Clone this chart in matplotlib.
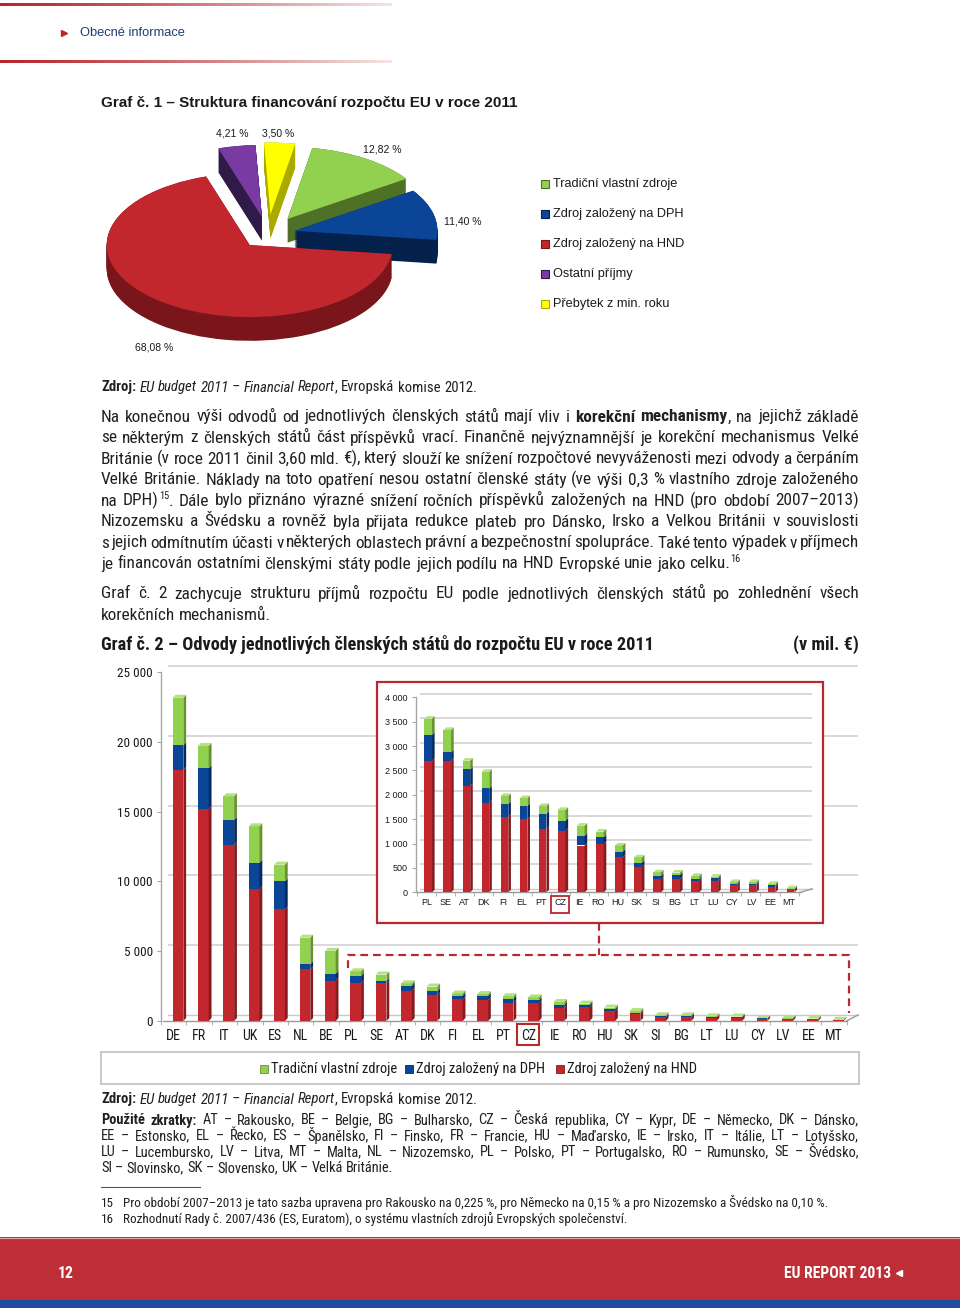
import warnings
warnings.filterwarnings('ignore')
import logging
logging.getLogger('matplotlib.font_manager').setLevel(logging.ERROR)
import numpy as np
import matplotlib
matplotlib.use("Agg")
import matplotlib.pyplot as plt
from matplotlib.patches import Rectangle, Polygon
from matplotlib.font_manager import FontProperties

# ---------------- data ----------------
pie_labels = ['Tradiční vlastní zdroje', 'Zdroj založený na DPH', 'Zdroj založený na HND',
              'Ostatní příjmy', 'Přebytek z min. roku']
pie_vals = [12.82, 11.40, 68.08, 4.21, 3.50]
pie_text = ['12,82 %', '11,40 %', '68,08 %', '4,21 %', '3,50 %']

countries = ['DE', 'FR', 'IT', 'UK', 'ES', 'NL', 'BE', 'PL', 'SE', 'AT', 'DK', 'FI', 'EL', 'PT',
             'CZ', 'IE', 'RO', 'HU', 'SK', 'SI', 'BG', 'LT', 'LU', 'CY', 'LV', 'EE', 'MT']
hnd = [18000, 15200, 12600, 9450, 8000, 3700, 2900, 2700, 2700, 2180, 1840, 1550, 1500, 1300,
       1265, 960, 990, 720, 525, 275, 275, 240, 240, 150, 150, 115, 60]
dph = [1750, 2900, 1800, 1900, 2000, 370, 480, 530, 170, 340, 290, 260, 270, 310,
       205, 195, 140, 115, 80, 60, 80, 30, 45, 30, 25, 28, 12]
tor = [3400, 1600, 1700, 2600, 1200, 1900, 1650, 330, 460, 180, 340, 165, 160, 160,
       220, 210, 115, 125, 110, 75, 50, 65, 35, 30, 35, 28, 10]
bar_series = ['Tradiční vlastní zdroje', 'Zdroj založený na DPH', 'Zdroj založený na HND']
main_ticks = [0, 5000, 10000, 15000, 20000, 25000]
inset_ticks = [0, 500, 1000, 1500, 2000, 2500, 3000, 3500, 4000]
inset_start = 7  # inset shows PL ... MT

# ---------------- style ----------------
NARROW = ['Liberation Sans Narrow', 'Arial Narrow', 'Roboto Condensed', 'Archivo Narrow',
          'Pragati Narrow', 'DejaVu Sans']
REG = ['Liberation Sans', 'DejaVu Sans']
TXT = '#231f20'
RED = '#b8282f'
GREEN, GREEN_S, GREEN_T = '#92d050', '#67932f', '#b4e282'
BLUE, BLUE_S = '#0b4597', '#062a60'
HRED, HRED_S = '#c1272d', '#851a1f'
pie_colors = [GREEN, BLUE, HRED, '#7a3aa4', '#ffff00']
pie_side = ['#4f7127', '#04214c', '#7a161b', '#2f1a48', '#a9a900']

W, H = 960, 1308
fig = plt.figure(figsize=(W / 100, H / 100), dpi=100)
fig.patch.set_facecolor('white')


def pax(x0, y0, x1, y1):
    return fig.add_axes([x0 / W, 1 - y1 / H, (x1 - x0) / W, (y1 - y0) / H])


def page_axes():
    a = fig.add_axes([0, 0, 1, 1])
    a.set_xlim(0, W)
    a.set_ylim(H, 0)
    a.axis('off')
    a.patch.set_alpha(0)
    return a


bg = page_axes()
renderer = fig.canvas.get_renderer()


# ---------- rich / justified text helper ----------
def fprop(st, sz, family):
    return FontProperties(family=family, size=sz,
                          weight='bold' if 'b' in st else 'normal',
                          style='italic' if 'i' in st else 'normal')


def tw(s, fp):
    return renderer.get_text_width_height_descent(s, fp, ismath=False)[0]


def tokens(runs):
    toks = [[]]
    for text, st in runs:
        parts = text.split(' ')
        for i, p in enumerate(parts):
            if i > 0:
                toks.append([])
            if p:
                toks[-1].append((p, st))
    return [tk for tk in toks if tk]


def measure(runs, size, family=NARROW):
    toks = tokens(runs)
    widths = []
    for tk in toks:
        w = 0
        for s, st in tk:
            sz = size * 0.6 if 's' in st else size
            w += tw(s, fprop(st, sz, family))
        widths.append(w)
    fp0 = fprop('', size, family)
    space = tw('a a', fp0) - tw('aa', fp0)
    return toks, widths, space


def fit_size(runs, target, base=10.0, family=NARROW):
    toks, widths, space = measure(runs, base, family)
    nat = sum(widths) + space * (len(toks) - 1)
    return base * target / nat


def draw_runs(y, runs, x0=101, x1=859, justify=True, size=10.5, color=TXT, family=NARROW, ax=None):
    ax = ax or bg
    toks, widths, space = measure(runs, size, family)
    gap = space
    if justify and len(toks) > 1:
        gap = (x1 - x0 - sum(widths)) / (len(toks) - 1)
        if gap < 0.55 * space:
            size = size * (x1 - x0 - 0.55 * space * (len(toks) - 1)) / sum(widths)
            toks, widths, space = measure(runs, size, family)
            gap = (x1 - x0 - sum(widths)) / (len(toks) - 1)
    x = x0
    for tk in toks:
        for s, st in tk:
            sup = 's' in st
            sz = size * 0.6 if sup else size
            fp = fprop(st, sz, family)
            ax.text(x, y - (size * 0.55 if sup else 0), s, fontproperties=fp, color=color,
                    va='baseline', ha='left')
            x += tw(s, fp)
        x += gap


# header gradient lines
t = np.linspace(0, 1, 400)
f = np.clip(t ** 1.2, 0, 1)
c0 = np.array([0.72, 0.15, 0.18])
c1 = np.array([0.96, 0.90, 0.89])
grad = (c0[None, :] * (1 - f[:, None]) + c1[None, :] * f[:, None])[None, :, :]
for yy in (3.5, 60.5):
    bg.imshow(grad, extent=(0, 392, yy + 3, yy), aspect='auto', interpolation='bilinear')
bg.set_xlim(0, W)
bg.set_ylim(H, 0)
bg.plot([64], [33], marker='>', ms=5, color=RED, mec=RED)
bg.text(80, 33, 'Obecné informace', family=REG, size=9.3, color='#1f3d73', va='center')

bg.text(101, 103, 'Graf č. 1 – Struktura financování rozpočtu EU v roce 2011', family=REG,
        size=11, weight='bold', color='#1a1a1a', va='center')

# source line under pie
src_runs = [('Zdroj:', 'b'), (' ', ''), ('EU budget 2011 – Financial Report', 'i'),
            (', Evropská komise 2012.', '')]
src_size = fit_size(src_runs, 373)
draw_runs(391.5, src_runs, justify=False, size=src_size)

body = [
    [('Na konečnou výši odvodů od jednotlivých členských států mají vliv i ', ''),
     ('korekční mechanismy', 'b'), (', na jejichž základě', '')],
    [('se některým z členských států část příspěvků vrací. Finančně nejvýznamnější je korekční mechanismus Velké', '')],
    [('Británie (v roce 2011 činil 3,60 mld. €), který slouží ke snížení rozpočtové nevyváženosti mezi odvody a čerpáním', '')],
    [('Velké Británie. Náklady na toto opatření nesou ostatní členské státy (ve výši 0,3 % vlastního zdroje založeného', '')],
    [('na DPH)', ''), ('15', 's'), ('. Dále bylo přiznáno výrazné snížení ročních příspěvků založených na HND (pro období 2007–2013)', '')],
    [('Nizozemsku a Švédsku a rovněž byla přijata redukce plateb pro Dánsko, Irsko a Velkou Británii v souvislosti', '')],
    [('s jejich odmítnutím účasti v některých oblastech právní a bezpečnostní spolupráce. Také tento výpadek v příjmech', '')],
    [('je financován ostatními členskými státy podle jejich podílu na HND Evropské unie jako celku.', ''), ('16', 's')],
]
body_size = fit_size(body[-1][:1], 626)
for i, runs in enumerate(body):
    draw_runs(421.5 + 21 * i, runs, justify=(i < len(body) - 1), size=body_size)

draw_runs(598.5, [('Graf č. 2 zachycuje strukturu příjmů rozpočtu EU podle jednotlivých členských států po zohlednění všech', '')],
          size=body_size)
draw_runs(619.5, [('korekčních mechanismů.', '')], justify=False, size=body_size)

t2 = 'Graf č. 2 – Odvody jednotlivých členských států do rozpočtu EU v roce 2011'
t2_size = fit_size([(t2, 'b')], 551)
bg.text(101, 649.5, t2, family=NARROW, size=t2_size, weight='bold', color='#1a1a1a', va='baseline')
bg.text(859, 649.5, '(v mil. €)', family=NARROW, size=t2_size, weight='bold', color='#1a1a1a',
        va='baseline', ha='right')

# ---------------- pie ----------------
cx, cy = 268, 234
sx, sy = 143.0, 72.0
axp = pax(90, 110, 460, 372)
explode = [0.25, 0.19, 0.20, 0.24, 0.27]
depth = 0.33
nl = 30
for k in range(nl + 1):
    off = -depth + depth * k / nl
    axp.pie(pie_vals, explode=explode, startangle=80, counterclock=False, colors=pie_side,
            center=(0, off), wedgeprops=dict(linewidth=0), normalize=True)
axp.pie(pie_vals, explode=explode, startangle=80, counterclock=False, colors=pie_colors,
        center=(0, 0), wedgeprops=dict(linewidth=0), normalize=True)
axp.set_aspect('auto')
axp.set_xlim((90 - cx) / sx, (460 - cx) / sx)
axp.set_ylim((cy - 372) / sy, (cy - 110) / sy)
axp.axis('off')

pie_label_pos = [(382, 150), (463, 221), (154, 348), (232, 133), (278, 133)]
for (px, py), s in zip(pie_label_pos, pie_text):
    bg.text(px, py, s, family=REG, size=7.5, color='#1a1a1a', ha='center', va='center')

for i, (lab, col, sc) in enumerate(zip(pie_labels, pie_colors, pie_side)):
    yy = 184 + 30 * i
    bg.add_patch(Rectangle((541, yy - 4), 8, 8, fc=col, ec=sc, lw=0.8))
    bg.text(553, yy, lab, family=REG, size=9.2, color='#1a1a1a', va='center')


# ---------------- 3D bars helper ----------------
def bars3d(ax, xs, stacks, fronts, sides, topc, w, dx, dy, z=3):
    bottom = np.zeros(len(xs))
    for vals, fc, sc in zip(stacks, fronts, sides):
        vals = np.asarray(vals, float)
        ax.bar(xs, vals, width=w, bottom=bottom, color=fc, zorder=z, linewidth=0)
        for x, b, v in zip(xs, bottom, vals):
            ax.add_patch(Polygon([(x + w / 2, b), (x + w / 2 + dx, b + dy),
                                  (x + w / 2 + dx, b + v + dy), (x + w / 2, b + v)],
                                 closed=True, fc=sc, ec='none', zorder=z))
        bottom = bottom + vals
    for x, tp in zip(xs, bottom):
        ax.add_patch(Polygon([(x - w / 2, tp), (x - w / 2 + dx, tp + dy),
                              (x + w / 2 + dx, tp + dy), (x + w / 2, tp)],
                             closed=True, fc=topc, ec='none', zorder=z))


def fmt(v):
    return f'{v:,}'.replace(',', ' ')


def setup_axes(ax, ticks, labels, xl, yl, gdx, gdy, tick_font, lab_font, lab_size, tick_size, floor_end):
    ax.set_xlim(*xl)
    ax.set_ylim(*yl)
    ax.patch.set_alpha(0)
    for s in ('top', 'right', 'bottom'):
        ax.spines[s].set_visible(False)
    ax.spines['left'].set_color('#a6a6a6')
    ax.spines['left'].set_linewidth(1.0)
    ax.set_yticks(ticks)
    ax.set_yticklabels([fmt(v) for v in ticks], family=tick_font, size=tick_size, color='#1a1a1a')
    ax.tick_params(axis='y', length=3, color='#a6a6a6', pad=3)
    n = len(labels)
    ax.set_xticks(np.arange(n))
    ax.set_xticklabels(labels, family=lab_font, size=lab_size, color='#1a1a1a')
    ax.set_xticks(np.arange(n + 1) - 0.5, minor=True)
    ax.tick_params(axis='x', which='major', length=0, pad=6)
    ax.tick_params(axis='x', which='minor', length=3, color='#a6a6a6')
    ax.hlines(np.array(ticks[1:]) + gdy, xl[0] + gdx, xl[1], color='#d6d6d6', lw=1.3, zorder=1,
              clip_on=False)
    ax.plot([xl[0], floor_end], [0, 0], color='#9a9a9a', lw=1.0, zorder=2, clip_on=False)
    ax.plot([xl[0] + gdx, xl[1]], [gdy, gdy], color='#c8c8c8', lw=1.0, zorder=1, clip_on=False)
    ax.plot([floor_end, xl[1]], [0, gdy], color='#9a9a9a', lw=1.0, zorder=2, clip_on=False)


# ---------------- main bar chart ----------------
axm = pax(161, 672, 858, 1021)
xl_m = (-0.432, 26.95)
yl_m = (0, 25000)
pxx = (858 - 161) / (xl_m[1] - xl_m[0])
pyy = 25000 / (1021 - 672)
setup_axes(axm, main_ticks, countries, xl_m, yl_m, 5 / pxx, 6 * pyy, NARROW, NARROW, 10, 9.5,
           xl_m[1] - 0.45)
xs = np.arange(len(countries)) + 0.17
bars3d(axm, xs, [hnd, dph, tor], [HRED, BLUE, GREEN], [HRED_S, BLUE_S, GREEN_S], GREEN_T,
       w=0.42, dx=2.8 / pxx, dy=3 * pyy)

# ---------------- inset ----------------
axi = pax(416, 697.3, 812, 892.3)
axi.add_patch(Rectangle((377, 682), 446, 241, transform=bg.transData, fc='white', ec=RED,
                        lw=1.6, clip_on=False, zorder=0))
xl_i = (-0.56, 20.2)
yl_i = (0, 4000)
pxi = (812 - 416) / (xl_i[1] - xl_i[0])
pyi = 4000 / (892.3 - 697.3)
sub = countries[inset_start:]
setup_axes(axi, inset_ticks, sub, xl_i, yl_i, 4 / pxi, 3.5 * pyi, REG, REG, 6.5, 6.5,
           xl_i[1] - 0.6)
axi.tick_params(axis='x', which='major', pad=4)
xi = np.arange(len(sub)) + 0.08
bars3d(axi, xi, [hnd[inset_start:], dph[inset_start:], tor[inset_start:]],
       [HRED, BLUE, GREEN], [HRED_S, BLUE_S, GREEN_S], GREEN_T,
       w=0.40, dx=2.6 / pxi, dy=2.6 * pyi)

# ---------------- overlay decorations ----------------
top = page_axes()
dash = dict(color=RED, lw=1.6, ls=(0, (3.5, 2.2)))
top.plot([348, 348, 849, 849], [968, 955, 955, 1013], **dash)
top.plot([599, 599], [923, 955], **dash)
ci = countries.index('CZ')
cz_main_x = 172 + 25.45 * ci
top.add_patch(Rectangle((cz_main_x - 11, 1024), 22, 21, fc='none', ec=RED, lw=1.5))
cz_in_x = 416 + (ci - inset_start - xl_i[0]) * pxi
top.add_patch(Rectangle((cz_in_x - 9, 896), 18, 17, fc='none', ec=RED, lw=1.3))

# legend box
top.add_patch(Rectangle((101, 1052), 758, 32, fc='none', ec='#bfbfbf', lw=1.2))
leg_items = [(264, GREEN, GREEN_S), (409, BLUE, BLUE_S), (560, HRED, HRED_S)]
leg_size = fit_size([(bar_series[0], '')], 126)
for (lx, col, sc), lab in zip(leg_items, bar_series):
    top.add_patch(Rectangle((lx - 4, 1065), 8, 8, fc=col, ec=sc, lw=0.6))
    top.text(lx + 7, 1069, lab, family=NARROW, size=leg_size, color='#1a1a1a', va='center')

draw_runs(1103.5, src_runs, justify=False, size=src_size, ax=top)
zk = [
    [('Použité zkratky:', 'b'), (' AT – Rakousko, BE – Belgie, BG – Bulharsko, CZ – Česká republika, CY – Kypr, DE – Německo, DK – Dánsko,', '')],
    [('EE – Estonsko, EL – Řecko, ES – Španělsko, FI – Finsko, FR – Francie, HU – Maďarsko, IE – Irsko, IT – Itálie, LT – Lotyšsko,', '')],
    [('LU – Lucembursko, LV – Litva, MT – Malta, NL – Nizozemsko, PL – Polsko, PT – Portugalsko, RO – Rumunsko, SE – Švédsko,', '')],
    [('SI – Slovinsko, SK – Slovensko, UK – Velká Británie.', '')],
]
zk_size = fit_size(zk[-1], 293)
for i, runs in enumerate(zk):
    draw_runs(1124.5 + 16 * i, runs, justify=(i < len(zk) - 1), size=zk_size, ax=top)

top.plot([101, 200], [1187, 1187], color='#555555', lw=0.8)
fn = [('15', 'Pro období 2007–2013 je tato sazba upravena pro Rakousko na 0,225 %, pro Německo na 0,15 % a pro Nizozemsko a Švédsko na 0,10 %.'),
      ('16', 'Rozhodnutí Rady č. 2007/436 (ES, Euratom), o systému vlastních zdrojů Evropských společenství.')]
fn_size = fit_size([(fn[0][1], '')], 699)
for i, (num, s) in enumerate(fn):
    yy = 1207 + 16 * i
    top.text(101, yy, num, family=NARROW, size=fn_size, color=TXT, va='baseline')
    top.text(123, yy, s, family=NARROW, size=fn_size, color=TXT, va='baseline')

# footer
top.add_patch(Rectangle((0, 1237), W, 63, fc='#be2e37', ec='none'))
top.add_patch(Rectangle((0, 1300), W, 8, fc='#1f4e9f', ec='none'))
top.plot([0, W], [1237.5, 1237.5], color='#e8a8ab', lw=0.8)
ft_size = fit_size([('EU REPORT 2013', 'b')], 107)
top.text(58, 1273, '12', family=NARROW, size=ft_size, weight='bold', color='white', va='center')
top.text(891, 1273, 'EU REPORT 2013', family=NARROW, size=ft_size, weight='bold', color='white',
         va='center', ha='right')
top.plot([899], [1273], marker='<', ms=4.5, color='white', mec='white')
top.set_xlim(0, W)
top.set_ylim(H, 0)

fig.savefig('out.png', dpi=100, facecolor='white')
